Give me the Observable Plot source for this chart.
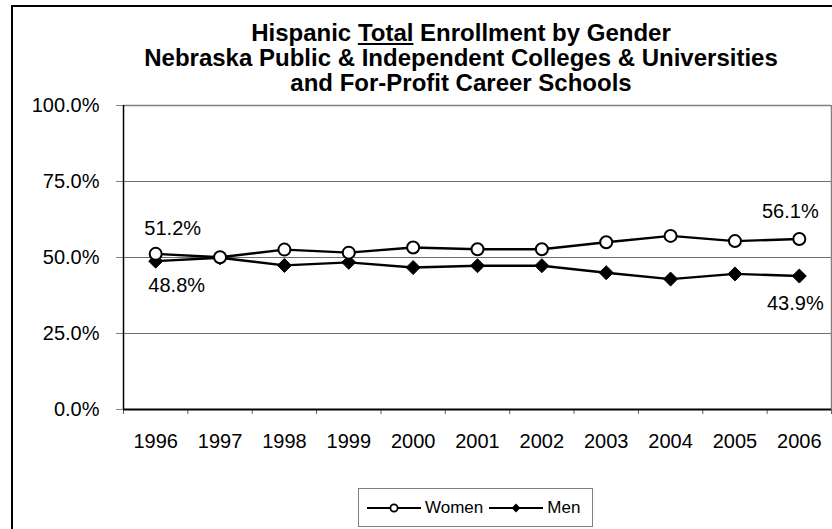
<!DOCTYPE html>
<html><head><meta charset="utf-8">
<script src="https://cdn.jsdelivr.net/npm/d3@7"></script>
<script src="https://cdn.jsdelivr.net/npm/@observablehq/plot@0.6"></script>
<style>
html,body{margin:0;padding:0;background:#fff;}
body{width:832px;height:529px;overflow:hidden;position:relative;font-family:Arial,"Liberation Sans",sans-serif;color:#000;}
#frame{position:absolute;left:11px;top:5px;width:900px;height:600px;border:2px solid #000;box-sizing:border-box;z-index:5;pointer-events:none;}
#title{position:absolute;left:0;top:20px;width:922px;text-align:center;font-weight:bold;font-size:24px;line-height:25px;}
#chart{position:absolute;left:0;top:80px;}
#chart svg{background:transparent !important;}
#legend{position:absolute;left:358px;top:488px;height:39px;border:1px solid #808080;box-sizing:border-box;display:flex;align-items:center;padding:0 6px 0 8px;font-size:17px;background:#fff;}
#legend span{margin:0 6px 0 4px;}
</style></head>
<body>
<div id="title">Hispanic <u>Total</u> Enrollment by Gender<br>Nebraska Public &amp; Independent Colleges &amp; Universities<br>and For-Profit Career Schools</div>
<div id="chart"></div>
<div id="legend"></div>
<div id="frame"></div>
<script>
const years = [1996, 1997, 1998, 1999, 2000, 2001, 2002, 2003, 2004, 2005, 2006];
const women = [51.2, 50.1, 52.6, 51.6, 53.3, 52.7, 52.7, 55.0, 57.1, 55.4, 56.1];
const men   = [48.8, 49.9, 47.4, 48.4, 46.7, 47.3, 47.3, 45.0, 42.9, 44.6, 43.9];
const yTicks = [0, 25, 50, 75, 100];
const gridTicks = [25, 50, 75];
const seriesNames = ["Women", "Men"];

const idx = years.map((d, i) => i);
const boundaries = [...years.map(y => y - 0.5), years[years.length - 1] + 0.5];
const xMin = boundaries[0], xMax = boundaries[boundaries.length - 1];
const pct = v => v.toFixed(1) + "%";
const first = [0], last = [years.length - 1];

const chart = Plot.plot({
  width: 832,
  height: 399,
  marginTop: 25,
  marginBottom: 70,
  marginLeft: 123,
  marginRight: 1,
  style: {fontFamily: "Arial, 'Liberation Sans', sans-serif", fontSize: "20px", color: "#000", background: "transparent"},
  x: {type: "linear", domain: [xMin, xMax]},
  y: {domain: [0, 100]},
  marks: [
    Plot.ruleY(gridTicks, {stroke: "#6e6e6e", strokeWidth: 1}),
    Plot.ruleY([yTicks[yTicks.length - 1]], {stroke: "#808080", strokeWidth: 1.5}),
    Plot.ruleX([xMax], {stroke: "#808080", strokeWidth: 1.5}),
    Plot.axisY({ticks: yTicks, tickSize: 7, tickPadding: 17, stroke: "#808080", tickFormat: pct, fontSize: 20}),
    Plot.axisX({ticks: boundaries, tickSize: 5, tickFormat: () => "", stroke: "#606060"}),
    Plot.axisX({ticks: years, tickSize: 0, tickPadding: 24, tickFormat: d => String(d), fontSize: 20}),
    Plot.ruleX([xMin], {stroke: "#000", strokeWidth: 1.5}),
    Plot.ruleY([yTicks[0]], {stroke: "#000", strokeWidth: 2}),
    Plot.line(idx, {x: i => years[i], y: i => women[i], stroke: "#000", strokeWidth: 2.4}),
    Plot.line(idx, {x: i => years[i], y: i => men[i], stroke: "#000", strokeWidth: 2.4}),
    Plot.dot(idx, {x: i => years[i], y: i => men[i], symbol: "diamond2", r: 6.3, fill: "#000", stroke: "#000", strokeWidth: 1}),
    Plot.dot(idx, {x: i => years[i], y: i => women[i], r: 6, fill: "#fff", stroke: "#000", strokeWidth: 2}),
    Plot.text(first, {x: i => years[i], y: i => women[i], text: i => pct(women[i]), dy: -25, dx: 17, fontSize: 20}),
    Plot.text(first, {x: i => years[i], y: i => men[i], text: i => pct(men[i]), dy: 24, dx: 21, fontSize: 20}),
    Plot.text(last, {x: i => years[i], y: i => women[i], text: i => pct(women[i]), dy: -27, dx: -9, fontSize: 20}),
    Plot.text(last, {x: i => years[i], y: i => men[i], text: i => pct(men[i]), dy: 28, dx: -4, fontSize: 20})
  ]
});
document.getElementById("chart").appendChild(chart);

// legend
const legend = document.getElementById("legend");
const sym = (kind) => {
  const s = d3.create("svg").attr("width", 54).attr("height", 20);
  s.append("line").attr("x1", 0).attr("x2", 54).attr("y1", 10).attr("y2", 10).attr("stroke", "#000").attr("stroke-width", 2.2);
  if (kind === "Women") s.append("circle").attr("cx", 27).attr("cy", 10).attr("r", 3.6).attr("fill", "#fff").attr("stroke", "#000").attr("stroke-width", 1.8);
  else s.append("path").attr("d", d3.symbol(d3.symbolDiamond2, 50)()).attr("transform", "translate(27,10)").attr("fill", "#000");
  return s.node();
};
seriesNames.forEach(n => {
  legend.appendChild(sym(n));
  const t = document.createElement("span");
  t.textContent = n;
  legend.appendChild(t);
});
</script>
</body></html>
